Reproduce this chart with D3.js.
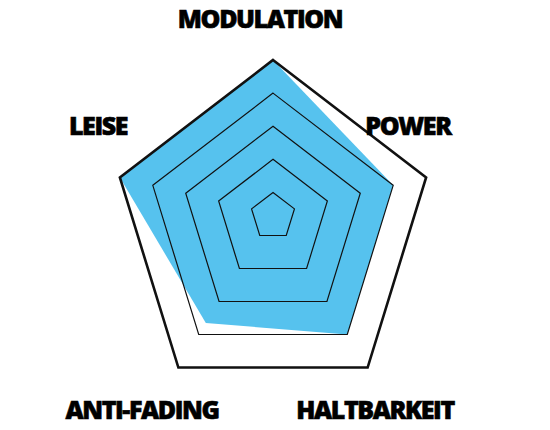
<!DOCTYPE html>
<html>
<head>
<meta charset="utf-8">
<script src="https://cdn.jsdelivr.net/npm/d3@7"></script>
<style>
  body { margin: 0; background: #fff; }
  text { font-family: "Open Sans", sans-serif; font-weight: 800; fill: #000; }
</style>
</head>
<body>
<div id="chart"></div>
<script>
const axes = ["MODULATION", "POWER", "HALTBARKEIT", "ANTI-FADING", "LEISE"];
const values = [5, 4, 4, 3.65, 5];
const rings = [1, 2, 3, 4, 5];

const width = 550,
    height = 430,
    cx = 273,
    cy = 230,
    oy = 214; // rings are scaled around the middle of the pentagon's height

// labels sit at fixed spots, not on the radius
const labelPos = [
    { x: 260, y: 28 },
    { x: 408, y: 135 },
    { x: 375, y: 419 },
    { x: 142, y: 419 },
    { x: 98, y: 135 }
];

const frac = d3.scaleLinear().domain([1, 5]).range([0.14, 1]);

const angle = d3.scaleLinear()
    .domain([0, axes.length])
    .range([0, 2 * Math.PI]);

// outer vertices of the (slightly tall) pentagon
const outer = axes.map((a, i) => [
    cx + 161 * Math.sin(angle(i)),
    cy - 170 * Math.cos(angle(i))
]);

function point(i, v) {
    const f = frac(v);
    return [cx + f * (outer[i][0] - cx), oy + f * (outer[i][1] - oy)];
}

const line = d3.line().curve(d3.curveLinearClosed);

const svg = d3.select("#chart").append("svg")
    .attr("width", width)
    .attr("height", height);

// data area
svg.append("path")
    .attr("d", line(values.map((v, i) => point(i, v))))
    .attr("fill", "#56c2ee")
    .attr("stroke", "none");

// grid
svg.selectAll(".grid")
    .data(rings)
    .enter()
    .append("path")
    .attr("class", "grid")
    .attr("d", r => line(axes.map((a, i) => point(i, r))))
    .attr("fill", "none")
    .attr("stroke", "#111")
    .attr("stroke-width", r => r === 5 ? 2.6 : 1.2)
    .attr("stroke-linejoin", "miter");

// labels
svg.selectAll(".label")
    .data(axes)
    .enter()
    .append("text")
    .attr("class", "label")
    .attr("x", (d, i) => labelPos[i].x)
    .attr("y", (d, i) => labelPos[i].y)
    .attr("text-anchor", "middle")
    .attr("stroke", "#000")
    .attr("stroke-width", 0.6)
    .style("font-size", "25px")
    .style("letter-spacing", "-1.4px")
    .text(d => d);
</script>
</body>
</html>
